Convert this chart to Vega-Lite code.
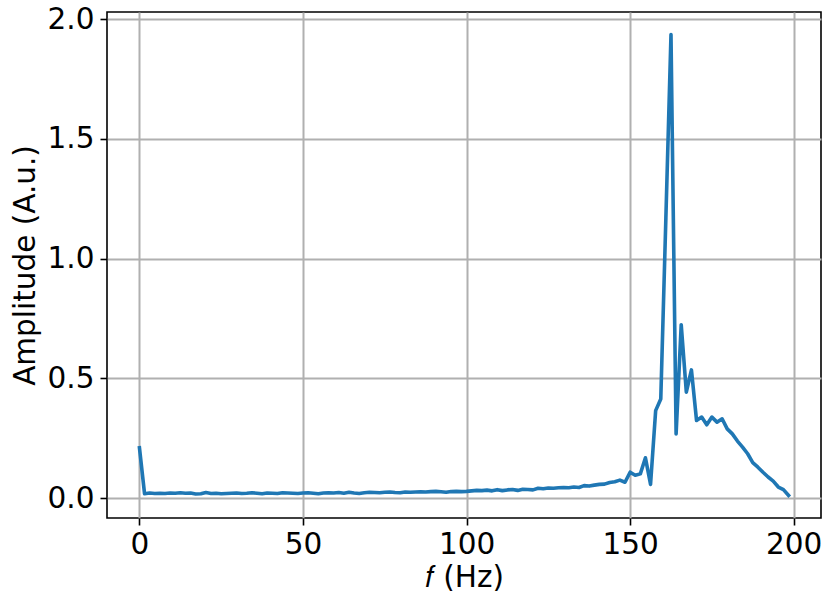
{
  "$schema": "https://vega.github.io/schema/vega-lite/v6.json",
  "width": 714,
  "height": 506,
  "autosize": {"type": "none"},
  "padding": {"left": 107, "top": 12, "right": 10, "bottom": 92},
  "background": "white",
  "config": {
    "view": {"stroke": "black", "strokeWidth": 1.6},
    "font": "DejaVu Sans"
  },
  "data": {
    "values": [
      {"f": 0, "amp": 0.21}, {"f": 1.5625, "amp": 0.018}, {"f": 3.125, "amp": 0.021}, {"f": 4.6875, "amp": 0.019},
      {"f": 6.25, "amp": 0.020}, {"f": 7.8125, "amp": 0.019}, {"f": 9.375, "amp": 0.021}, {"f": 10.9375, "amp": 0.020},
      {"f": 12.5, "amp": 0.022}, {"f": 14.0625, "amp": 0.020}, {"f": 15.625, "amp": 0.021}, {"f": 17.1875, "amp": 0.017},
      {"f": 18.75, "amp": 0.018}, {"f": 20.3125, "amp": 0.023}, {"f": 21.875, "amp": 0.019}, {"f": 23.4375, "amp": 0.020},
      {"f": 25, "amp": 0.018}, {"f": 26.5625, "amp": 0.019}, {"f": 28.125, "amp": 0.020}, {"f": 29.6875, "amp": 0.021},
      {"f": 31.25, "amp": 0.019}, {"f": 32.8125, "amp": 0.020}, {"f": 34.375, "amp": 0.022}, {"f": 35.9375, "amp": 0.020},
      {"f": 37.5, "amp": 0.018}, {"f": 39.0625, "amp": 0.021}, {"f": 40.625, "amp": 0.020}, {"f": 42.1875, "amp": 0.019},
      {"f": 43.75, "amp": 0.022}, {"f": 45.3125, "amp": 0.021}, {"f": 46.875, "amp": 0.020}, {"f": 48.4375, "amp": 0.019},
      {"f": 50, "amp": 0.021}, {"f": 51.5625, "amp": 0.022}, {"f": 53.125, "amp": 0.020}, {"f": 54.6875, "amp": 0.018},
      {"f": 56.25, "amp": 0.021}, {"f": 57.8125, "amp": 0.022}, {"f": 59.375, "amp": 0.021}, {"f": 60.9375, "amp": 0.023},
      {"f": 62.5, "amp": 0.020}, {"f": 64.0625, "amp": 0.024}, {"f": 65.625, "amp": 0.021}, {"f": 67.1875, "amp": 0.019},
      {"f": 68.75, "amp": 0.022}, {"f": 70.3125, "amp": 0.024}, {"f": 71.875, "amp": 0.023}, {"f": 73.4375, "amp": 0.022},
      {"f": 75, "amp": 0.024}, {"f": 76.5625, "amp": 0.025}, {"f": 78.125, "amp": 0.023}, {"f": 79.6875, "amp": 0.022},
      {"f": 81.25, "amp": 0.025}, {"f": 82.8125, "amp": 0.024}, {"f": 84.375, "amp": 0.025}, {"f": 85.9375, "amp": 0.026},
      {"f": 87.5, "amp": 0.025}, {"f": 89.0625, "amp": 0.027}, {"f": 90.625, "amp": 0.028}, {"f": 92.1875, "amp": 0.026},
      {"f": 93.75, "amp": 0.024}, {"f": 95.3125, "amp": 0.027}, {"f": 96.875, "amp": 0.028}, {"f": 98.4375, "amp": 0.027},
      {"f": 100, "amp": 0.028}, {"f": 101.5625, "amp": 0.030}, {"f": 103.125, "amp": 0.032}, {"f": 104.6875, "amp": 0.031},
      {"f": 106.25, "amp": 0.033}, {"f": 107.8125, "amp": 0.030}, {"f": 109.375, "amp": 0.035}, {"f": 110.9375, "amp": 0.031},
      {"f": 112.5, "amp": 0.034}, {"f": 114.0625, "amp": 0.036}, {"f": 115.625, "amp": 0.032}, {"f": 117.1875, "amp": 0.037},
      {"f": 118.75, "amp": 0.036}, {"f": 120.3125, "amp": 0.034}, {"f": 121.875, "amp": 0.041}, {"f": 123.4375, "amp": 0.039},
      {"f": 125, "amp": 0.042}, {"f": 126.5625, "amp": 0.041}, {"f": 128.125, "amp": 0.043}, {"f": 129.6875, "amp": 0.044},
      {"f": 131.25, "amp": 0.043}, {"f": 132.8125, "amp": 0.046}, {"f": 134.375, "amp": 0.044}, {"f": 135.9375, "amp": 0.052},
      {"f": 137.5, "amp": 0.050}, {"f": 139.0625, "amp": 0.054}, {"f": 140.625, "amp": 0.057}, {"f": 142.1875, "amp": 0.058},
      {"f": 143.75, "amp": 0.065}, {"f": 145.3125, "amp": 0.068}, {"f": 146.875, "amp": 0.075}, {"f": 148.4375, "amp": 0.066},
      {"f": 150, "amp": 0.108}, {"f": 151.5625, "amp": 0.095}, {"f": 153.125, "amp": 0.101}, {"f": 154.6875, "amp": 0.168},
      {"f": 156.25, "amp": 0.057}, {"f": 157.8125, "amp": 0.365}, {"f": 159.375, "amp": 0.414}, {"f": 160.9375, "amp": 1.17},
      {"f": 162.5, "amp": 1.936}, {"f": 164.0625, "amp": 0.268}, {"f": 165.625, "amp": 0.724}, {"f": 167.1875, "amp": 0.442},
      {"f": 168.75, "amp": 0.535}, {"f": 170.3125, "amp": 0.324}, {"f": 171.875, "amp": 0.338}, {"f": 173.4375, "amp": 0.306},
      {"f": 175, "amp": 0.338}, {"f": 176.5625, "amp": 0.317}, {"f": 178.125, "amp": 0.331}, {"f": 179.6875, "amp": 0.289},
      {"f": 181.25, "amp": 0.268}, {"f": 182.8125, "amp": 0.238}, {"f": 184.375, "amp": 0.213}, {"f": 185.9375, "amp": 0.185},
      {"f": 187.5, "amp": 0.148}, {"f": 189.0625, "amp": 0.129}, {"f": 190.625, "amp": 0.108}, {"f": 192.1875, "amp": 0.088},
      {"f": 193.75, "amp": 0.071}, {"f": 195.3125, "amp": 0.046}, {"f": 196.875, "amp": 0.035}, {"f": 198.4375, "amp": 0.011}
    ]
  },
  "mark": {"type": "line", "color": "#1f77b4", "strokeWidth": 3.6, "strokeJoin": "round", "strokeCap": "square"},
  "encoding": {
    "x": {
      "field": "f", "type": "quantitative",
      "scale": {"domain": [-9.92, 208.36], "nice": false, "zero": false},
      "axis": {
        "title": "𝑓 (Hz)",
        "values": [0, 50, 100, 150, 200],
        "format": "d",
        "grid": true, "gridColor": "#b0b0b0", "gridWidth": 2,
        "domain": false,
        "tickColor": "black", "tickWidth": 1.6, "tickSize": 7,
        "labelFont": "DejaVu Sans", "labelFontSize": 29.5, "labelColor": "black", "labelPadding": 5,
        "titleFont": "DejaVu Sans", "titleFontSize": 29.5, "titleFontWeight": "normal", "titleColor": "black", "titlePadding": 5
      }
    },
    "y": {
      "field": "amp", "type": "quantitative",
      "scale": {"domain": [-0.0833, 2.0298], "nice": false, "zero": false},
      "axis": {
        "title": "Amplitude (A.u.)",
        "values": [0, 0.5, 1.0, 1.5, 2.0],
        "format": ".1f",
        "grid": true, "gridColor": "#b0b0b0", "gridWidth": 2,
        "domain": false,
        "tickColor": "black", "tickWidth": 1.6, "tickSize": 7,
        "labelFont": "DejaVu Sans", "labelFontSize": 29.5, "labelColor": "black", "labelPadding": 6,
        "titleFont": "DejaVu Sans", "titleFontSize": 29.5, "titleFontWeight": "normal", "titleColor": "black", "titlePadding": 7
      }
    }
  }
}
